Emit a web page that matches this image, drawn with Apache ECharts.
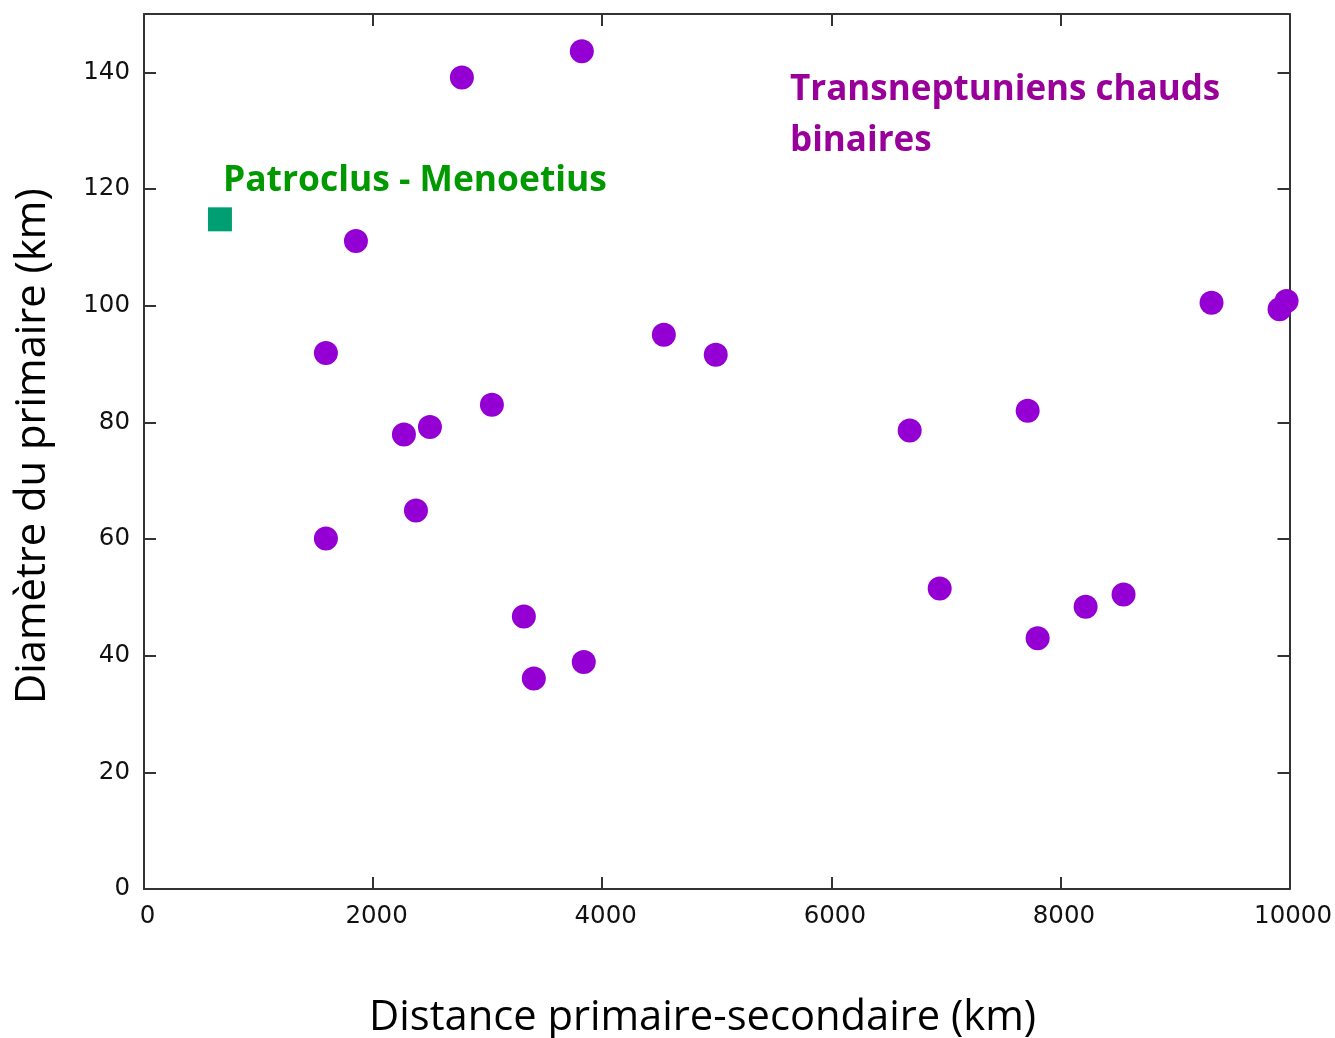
<!DOCTYPE html>
<html><head><meta charset="utf-8">
<script src="https://cdn.jsdelivr.net/npm/echarts@6/dist/echarts.min.js"></script>
<style>html,body{margin:0;padding:0;background:#fff}#c{width:1335px;height:1038px}</style>
</head><body><div id="c"></div>
<script>
const tnoDistance = [2775, 3822, 1850, 1588, 2269, 2496, 3037, 2374, 1588, 3316, 3403, 3839, 4538, 4991, 6684, 7714, 6946, 7801, 8220, 8551, 9319, 9913, 9974];
const tnoDiameter = [139.1, 143.6, 111.1, 91.9, 77.9, 79.2, 83.0, 64.9, 60.1, 46.7, 36.1, 38.9, 95.0, 91.6, 78.6, 82.0, 51.5, 43.0, 48.4, 50.5, 100.5, 99.4, 100.8];
const patroclusDistance = [663];
const patroclusDiameter = [114.8];
const xTicks = [0, 2000, 4000, 6000, 8000, 10000];
const yTicks = [0, 20, 40, 60, 80, 100, 120, 140];

const tickFont = {fontFamily: 'DejaVu Sans', fontSize: 24.5, color: '#111'};
const lineStyle = {color: '#333', width: 2};
const chart = echarts.init(document.getElementById('c'));
const xAx = (pos, labels) => ({
  type: 'value', position: pos, min: 0, max: 10000, interval: 2000,
  axisLine: {show: true, onZero: false, lineStyle},
  axisTick: {show: true, inside: true, length: 12, lineStyle},
  splitLine: {show: false},
  axisLabel: labels ? Object.assign({margin: 15, padding: [0, 0, 0, 7],
    formatter: v => xTicks.includes(v) ? String(v) : ''}, tickFont) : {show: false}
});
const yAx = (pos, labels) => ({
  type: 'value', position: pos, min: 0, max: 150, interval: 20,
  axisLine: {show: true, onZero: false, lineStyle},
  axisTick: {show: true, inside: true, length: 12, lineStyle},
  splitLine: {show: false},
  axisLabel: labels ? Object.assign({margin: 14, showMaxLabel: false,
    formatter: v => yTicks.includes(v) ? String(v) : ''}, tickFont) : {show: false}
});
chart.setOption({
  animation: false,
  backgroundColor: '#fff',
  grid: {left: 144, right: 45, top: 14, bottom: 149},
  xAxis: [xAx('bottom', true), xAx('top', false)],
  yAxis: [yAx('left', true), yAx('right', false)],
  graphic: [
    {type: 'text', left: 369, top: 997, style: {text: 'Distance primaire-secondaire (km)', font: '41.7px "Open Sans"', fill: '#000'}},
    {type: 'text', x: 12, y: 704, rotation: Math.PI / 2, style: {text: 'Diamètre du primaire (km)', font: '41.7px "Open Sans"', fill: '#000'}},
    {type: 'text', left: 223, top: 163, style: {text: 'Patroclus - Menoetius', font: 'bold 35.4px "Open Sans"', fill: '#009900'}},
    {type: 'text', left: 790, top: 65, style: {text: 'Transneptuniens chauds\nbinaires', font: 'bold 35px "Open Sans"', fill: '#990099', lineHeight: 51}}
  ],
  series: [
    {type: 'scatter', symbol: 'circle', symbolSize: 24, itemStyle: {color: '#9400D3', opacity: 1},
     data: tnoDistance.map((d, i) => [d, tnoDiameter[i]]), clip: false},
    {type: 'scatter', symbol: 'rect', symbolSize: 24, itemStyle: {color: '#009E73', opacity: 1},
     data: patroclusDistance.map((d, i) => [d, patroclusDiameter[i]]), clip: false}
  ]
});
</script></body></html>
